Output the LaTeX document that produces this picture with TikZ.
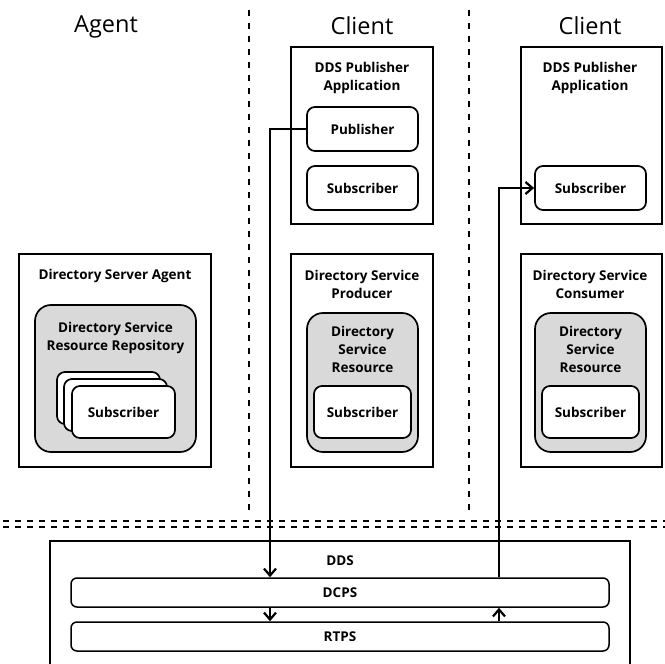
\documentclass[tikz,border=0pt]{standalone}
\usepackage{fontspec}
\setmainfont{Open Sans}
\usetikzlibrary{arrows.meta}
\definecolor{boxgray}{HTML}{D9D9D9}
\tikzset{
  outerbox/.style={draw=black, line width=1.5pt, fill=white, inner sep=0pt},
  graybox/.style={draw=black, line width=1.7pt, fill=boxgray, rounded corners=16pt, inner sep=0pt},
  whitebox/.style={draw=black, line width=1.7pt, fill=white, rounded corners=8pt, inner sep=0pt,
     font=\fontsize{13.5}{18}\selectfont\bfseries},
  layerbox/.style={draw=black, line width=1.5pt, fill=white, rounded corners=6pt, inner sep=0pt,
     font=\fontsize{13.5}{18}\selectfont\bfseries},
  lbl/.style={inner sep=0pt, align=center, font=\fontsize{13.5}{18}\selectfont\bfseries},
  header/.style={inner sep=0pt, font=\fontsize{23.5}{26}\selectfont},
  sep/.style={line width=1.6pt, dash pattern=on 6pt off 7pt},
  hsep/.style={line width=1.8pt, dash pattern=on 6pt off 6pt},
  conn/.style={line width=2.2pt},
  tip/.style={-{Straight Barb[length=7pt,width=12pt,line width=2.2pt]}}
}
\begin{document}
\begin{tikzpicture}[x=1pt,y=-1pt]
\useasboundingbox (0,0) rectangle (665,664);

% headers
\node[header] (hagent) at (106,27) {Agent};
\node[header] (hclient1) at (362,26) {Client};
\node[header] (hclient2) at (590,26) {Client};

% separators
\coordinate (s1t) at (249,10); \coordinate (s1b) at (249,510);
\coordinate (s2t) at (469,10); \coordinate (s2b) at (469,510);
\draw[sep] (s1t) -- (s1b);
\draw[sep] (s2t) -- (s2b);
\coordinate (h1l) at (3,521); \coordinate (h1r) at (665,521);
\coordinate (h2l) at (3,527); \coordinate (h2r) at (665,527);
\draw[hsep] (h1l) -- (h1r);
\draw[hsep] (h2l) -- (h2r);

% Agent
\node[outerbox, minimum width=192, minimum height=213] (agent) at (115,360.5) {};
\node[lbl] (agenttitle) at (115,275.5) {Directory Server Agent};
\node[graybox, minimum width=161, minimum height=147] (repo) at (115.5,378.5) {};
\node[lbl] (repotitle) at (115.5,337.5) {Directory Service\\Resource Repository};
\node[whitebox, minimum width=103, minimum height=52] (stack1) at (108.5,398) {};
\node[whitebox, minimum width=103, minimum height=52] (stack2) at (115.5,405) {};
\node[whitebox, minimum width=103, minimum height=52] (stack3) at (123.5,412) {Subscriber};

% Client 1 application
\node[outerbox, minimum width=142, minimum height=177] (app1) at (362,135.5) {};
\node[lbl] (app1title) at (362,77.5) {DDS Publisher\\Application};
\node[whitebox, minimum width=111, minimum height=44] (pub1) at (362.5,129) {Publisher};
\node[whitebox, minimum width=111, minimum height=44] (sub1) at (362.5,188) {Subscriber};

% Client 1 producer
\node[outerbox, minimum width=142, minimum height=213] (prod) at (362,360.5) {};
\node[lbl] (prodtitle) at (362,284) {Directory Service\\Producer};
\node[graybox, minimum width=111, minimum height=139] (res1) at (362.5,382.5) {};
\node[lbl] (res1title) at (362.5,349.5) {Directory\\Service\\Resource};
\node[whitebox, minimum width=97, minimum height=52] (rsub1) at (362.5,412) {Subscriber};

% Client 2 application
\node[outerbox, minimum width=141, minimum height=177] (app2) at (591.5,135.5) {};
\node[lbl] (app2title) at (590,77.5) {DDS Publisher\\Application};
\node[whitebox, minimum width=111, minimum height=44] (sub2) at (590.5,188) {Subscriber};

% Client 2 consumer
\node[outerbox, minimum width=141, minimum height=213] (cons) at (591.5,360.5) {};
\node[lbl] (constitle) at (590,284) {Directory Service\\Consumer};
\node[graybox, minimum width=111, minimum height=139] (res2) at (590.5,382.5) {};
\node[lbl] (res2title) at (590.5,349.5) {Directory\\Service\\Resource};
\node[whitebox, minimum width=97, minimum height=52] (rsub2) at (590.5,412) {Subscriber};

% DDS
\node[outerbox, minimum width=580, minimum height=130] (dds) at (340,606) {};
\node[lbl] (ddstitle) at (340,561) {DDS};
\node[layerbox, minimum width=538, minimum height=29] (dcps) at (340,592.5) {DCPS};
\node[layerbox, minimum width=538, minimum height=29] (rtps) at (340,636.5) {RTPS};

% connectors
\coordinate (c1) at (270,0);
\coordinate (c2) at (499,0);
\draw[conn,tip] (pub1.west) -| (c1 |- dcps.north);
\draw[conn,tip] (c1 |- dcps.south) -- (c1 |- rtps.north);
\draw[conn,tip] (c2 |- rtps.north) -- (c2 |- dcps.south);
\draw[conn,tip] (c2 |- dcps.north) |- (sub2.west);
\end{tikzpicture}
\end{document}
